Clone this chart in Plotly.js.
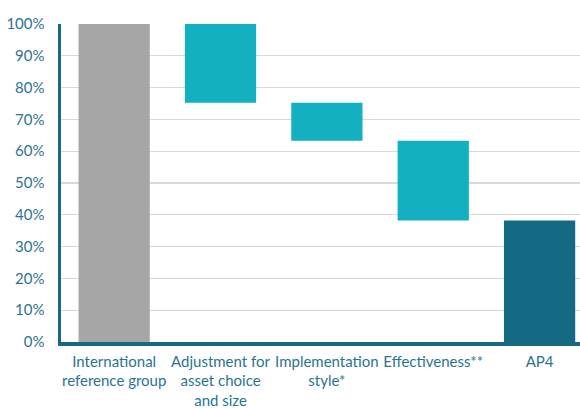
<!DOCTYPE html>
<html>
<head>
<meta charset="utf-8">
<script src="https://cdn.plot.ly/plotly-3.0.1.min.js"></script>
<style>html,body{margin:0;padding:0;background:#fff;}#chart{width:580px;height:408px;}</style>
</head>
<body>
<div id="chart"></div>
<script>
const categories = ["International<br>reference group", "Adjustment for<br>asset choice<br>and size", "Implementation<br>style*", "Effectiveness**", "AP4"];
const barBase = [0, 75.2, 63.3, 38.2, 0];
const barHeight = [100, 24.8, 11.9, 25.1, 38.2];
const barColors = ["#a6a6a6", "#13b0c2", "#13b0c2", "#13b0c2", "#136a82"];
const yTickVals = [0, 10, 20, 30, 40, 50, 60, 70, 80, 90, 100];
const yTickText = ["0%", "10%", "20%", "30%", "40%", "50%", "60%", "70%", "80%", "90%", "100%"];

const textColor = "#2a7490";
const axisColor = "#136a82";

Plotly.newPlot("chart", [{
  type: "bar",
  x: categories.map((c, i) => i),
  y: barHeight,
  base: barBase,
  marker: {color: barColors, line: {width: 0}},
  width: 0.67,
  hoverinfo: "skip"
}], {
  width: 580, height: 408,
  margin: {l: 61, r: 0, t: 24, b: 66},
  paper_bgcolor: "#fff", plot_bgcolor: "#fff",
  showlegend: false,
  font: {family: "Lato, 'Open Sans', sans-serif", size: 15, color: textColor},
  xaxis: {
    range: [-0.5, 4.38],
    tickvals: [0, 1, 2, 3, 4],
    ticktext: categories,
    showgrid: false, zeroline: false,
    showline: true, linecolor: axisColor, linewidth: 3.5,
    ticks: "", ticklabelstandoff: 3,
    tickfont: {size: 15, color: textColor},
    fixedrange: true
  },
  yaxis: {
    range: [0, 100],
    tickvals: yTickVals, ticktext: yTickText,
    showgrid: true, gridcolor: "#d9d9d9", gridwidth: 1.3,
    zeroline: false,
    showline: true, linecolor: axisColor, linewidth: 3.5,
    ticks: "", ticklabelstandoff: 10,
    tickfont: {size: 15, color: textColor},
    fixedrange: true
  }
}, {displayModeBar: false, staticPlot: true});
</script>
</body>
</html>
